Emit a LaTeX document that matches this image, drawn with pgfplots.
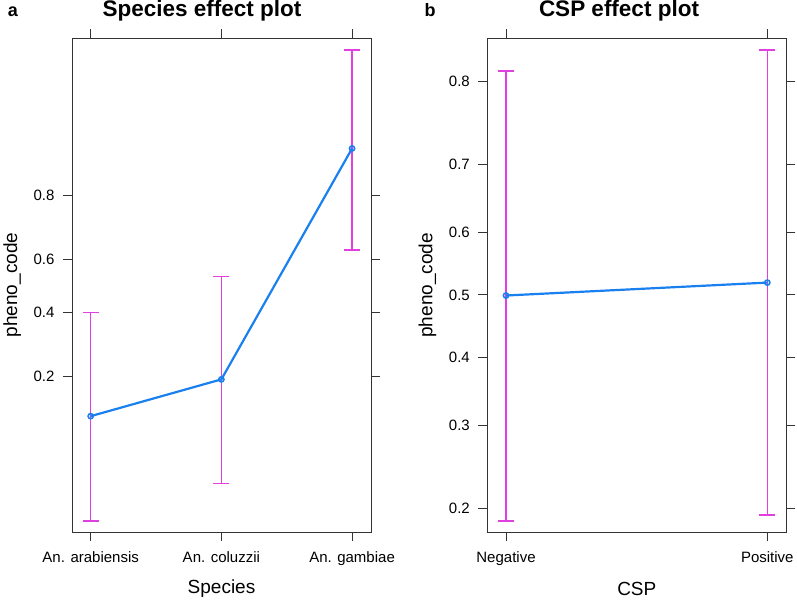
\documentclass[border=0pt]{standalone}
\usepackage{fontspec}
\setmainfont{Liberation Sans}
\usepackage{pgfplots}
\pgfplotsset{compat=1.18}
\definecolor{efblue}{HTML}{1A80F0}
\definecolor{efmag}{HTML}{E040E0}
\definecolor{efframe}{HTML}{333333}

\pgfplotsset{
  effect/.style={
    scale only axis, width=299pt, height=494pt,
    y coord trafo/.code={\pgfmathparse{ln(##1/(1-##1))}},
    y coord inv trafo/.code={\pgfmathparse{1/(1+exp(-##1))}},
    axis line style={efframe, line width=0.9pt},
    tick align=outside, major tick length=9pt,
    tick style={efframe, line width=0.9pt},
    tick label style={font=\fontsize{15}{18}\selectfont},
    yticklabel style={xshift=-5pt},
    xticklabel style={yshift=-7pt},
    label style={font=\fontsize{19}{22}\selectfont},
    xlabel style={at={(axis description cs:0.5,-0.115)}, anchor=center},
    ylabel style={at={(axis description cs:-0.2,0.5)}, anchor=center},
    xtick={0,1,2},
    /pgf/number format/assume math mode=true,
    clip=false,
  },
  cibar/.style={efmag, line width=1.5pt, mark=-, mark size=8pt, mark options={solid}},
  fitline/.style={efblue, line width=2.2pt, mark=o, mark size=2.6pt, mark options={line width=1.6pt}},
}

\begin{document}
\begin{tikzpicture}
\useasboundingbox (0,0) rectangle (797pt,-602pt);

% panel a
\begin{axis}[effect, at={(72pt,-532pt)}, anchor=south west,
  xmin=-0.143, xmax=2.145, ymin=0.0222, ymax=0.9783,
  ytick={0.2,0.4,0.6,0.8}, yticklabels={0.2,0.4,0.6,0.8},
  xticklabels={An. arabiensis, An. coluzzii, An. gambiae},
  xlabel={Species}, ylabel={pheno\_code}]
  \addplot[cibar] coordinates {(0,0.0263) (0,0.400)};
  \addplot[cibar] coordinates {(1,0.0459) (1,0.535)};
  \addplot[cibar] coordinates {(2,0.634) (2,0.974)};
  \addplot[fitline] coordinates {(0,0.119) (1,0.192) (2,0.892)};
\end{axis}

% panel b
\begin{axis}[effect, at={(487.3pt,-532.3pt)}, anchor=south west,
  xmin=-0.0716, xmax=1.0727, ymin=0.176, ymax=0.8413,
  ytick={0.2,0.3,0.4,0.5,0.6,0.7,0.8},
  yticklabels={0.2,0.3,0.4,0.5,0.6,0.7,0.8},
  xtick={0,1}, xticklabels={Negative, Positive},
  xlabel={CSP}, ylabel={pheno\_code}]
  \addplot[cibar] coordinates {(0,0.187) (0,0.811)};
  \addplot[cibar] coordinates {(1,0.193) (1,0.831)};
  \addplot[fitline] coordinates {(0,0.499) (1,0.520)};
\end{axis}

\node[anchor=base, font=\fontsize{22.5}{26}\selectfont\bfseries] at (202pt,-17pt) {Species effect plot};
\node[anchor=base, font=\fontsize{22.5}{26}\selectfont\bfseries] at (619pt,-17pt) {CSP effect plot};
\node[anchor=base, font=\fontsize{18}{22}\selectfont\bfseries] at (13pt,-17pt) {a};
\node[anchor=base, font=\fontsize{18}{22}\selectfont\bfseries] at (430pt,-17pt) {b};
\end{tikzpicture}
\end{document}
